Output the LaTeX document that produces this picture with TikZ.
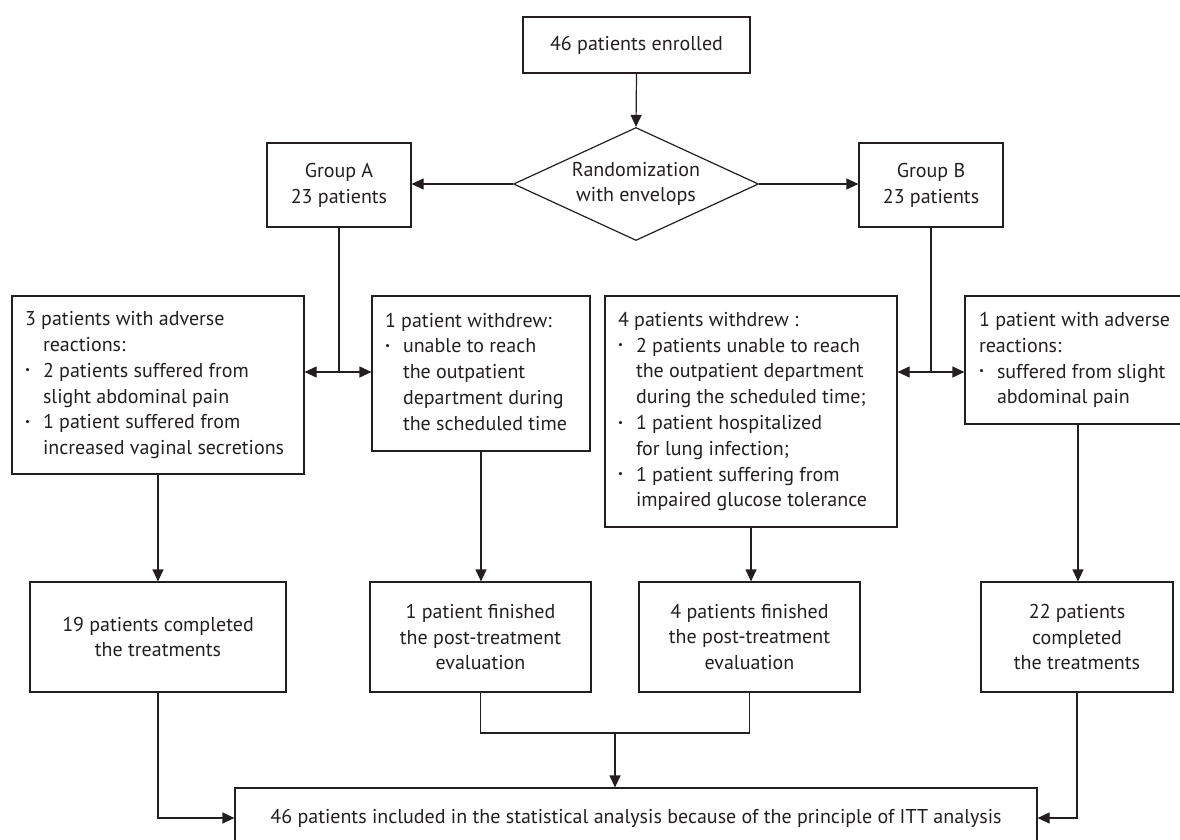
\documentclass[tikz,border=0pt]{standalone}
\usepackage{fontspec}
\setmainfont{PT Sans}
\usetikzlibrary{shapes.geometric,arrows.meta,calc}
\definecolor{ink}{HTML}{231F20}
\newcommand{\fs}{\fontsize{20}{25.8}\selectfont}
\newcommand{\bul}{\makebox[18pt][l]{\raisebox{0.17em}{\scalebox{0.55}{•}}}}
\newcommand{\ind}{\hspace*{18pt}}
\newcommand{\lblock}[2]{\makebox[#1][l]{\begin{tabular}{@{}l@{}}#2\end{tabular}}}
\begin{document}
\begin{tikzpicture}[x=1pt,y=-1pt,
  every node/.style={text=ink},
  box/.style={draw=ink, line width=1.2pt, inner sep=0pt, font=\fs, align=center},
  con/.style={draw=ink, line width=1.2pt},
  arr/.style={con, -{Triangle[length=12pt,width=11pt]}},
  darr/.style={con, {Triangle[length=12pt,width=11pt]}-{Triangle[length=12pt,width=11pt]}}]
\useasboundingbox (0,0) rectangle (1180,840);
\clip (0,0) rectangle (1180,840);

\node[box, minimum width=227pt, minimum height=56pt] (enrol) at (636.5,45) {46 patients enrolled};
\node[box, diamond, aspect=2.17, minimum width=245pt, minimum height=113pt] (rand) at (636,184) {Randomization\\with envelops};
\node[box, minimum width=144pt, minimum height=84pt] (GA) at (339,185) {Group A\\23 patients};
\node[box, minimum width=144pt, minimum height=84pt] (GB) at (931,185) {Group B\\23 patients};

\node[box, minimum width=292pt, minimum height=178pt] (L1) at (158,385)
  {\lblock{266pt}{3 patients with adverse\\ \ind reactions:\\ \bul 2 patients suffered from\\ \ind slight abdominal pain\\ \bul 1 patient suffered from\\ \ind increased vaginal secretions}};
\node[box, minimum width=218pt, minimum height=155pt] (M1) at (481,373.5)
  {\lblock{192pt}{1 patient withdrew:\\ \bul unable to reach\\ \ind the outpatient\\ \ind department during\\ \ind the scheduled time}};
\node[box, minimum width=292pt, minimum height=231pt] (M2) at (751,411.5)
  {\lblock{266pt}{4 patients withdrew :\\ \bul 2 patients unable to reach\\ \ind the outpatient department\\ \ind during the scheduled time;\\ \bul 1 patient hospitalized\\ \ind for lung infection;\\ \bul 1 patient suffering from\\ \ind impaired glucose tolerance}};
\node[box, minimum width=226pt, minimum height=128pt] (R1) at (1078,360)
  {\lblock{198pt}{1 patient with adverse\\ reactions:\\ \bul suffered from slight\\ \ind abdominal pain}};

\node[box, minimum width=256pt, minimum height=110pt] (B1) at (158,637) {19 patients completed\\the treatments};
\node[box, minimum width=221pt, minimum height=110pt] (B2) at (480.5,637) {1 patient finished\\the post-treatment\\evaluation};
\node[box, minimum width=221pt, minimum height=110pt] (B3) at (749.5,637) {4 patients finished\\the post-treatment\\evaluation};
\node[box, minimum width=192pt, minimum height=110pt] (B4) at (1077,637) {22 patients\\completed\\the treatments};

\node[box, minimum width=802pt, minimum height=60pt] (F) at (636,818) {46 patients included in the statistical analysis because of the principle of ITT analysis};

\coordinate (yj) at (0,372);
\coordinate (jA) at (GA.south |- yj);
\coordinate (jB) at (GB.south |- yj);
\coordinate (mg) at (615,733);

\draw[arr] (enrol.south) -- (rand.north);
\draw[arr] (rand.west) -- (rand.west -| GA.east);
\draw[arr] (rand.east) -- (rand.east -| GB.west);
\draw[con] (GA.south) -- (jA);
\draw[con] (GB.south) -- (jB);
\draw[darr] (L1.east |- jA) -- (M1.west |- jA);
\draw[darr] (M2.east |- jB) -- (R1.west |- jB);
\draw[arr] (L1.south) -- (L1.south |- B1.north);
\draw[arr] (M1.south) -- (M1.south |- B2.north);
\draw[arr] (M2.south) -- (M2.south |- B3.north);
\draw[arr] (R1.south) -- (R1.south |- B4.north);
\draw[arr] (B1.south) |- (F.west);
\draw[arr] (B4.south) |- (F.east);
\draw[con] (B2.south) |- (mg) -| (B3.south);
\draw[arr] (mg) -- (mg |- F.north);
\end{tikzpicture}
\end{document}
